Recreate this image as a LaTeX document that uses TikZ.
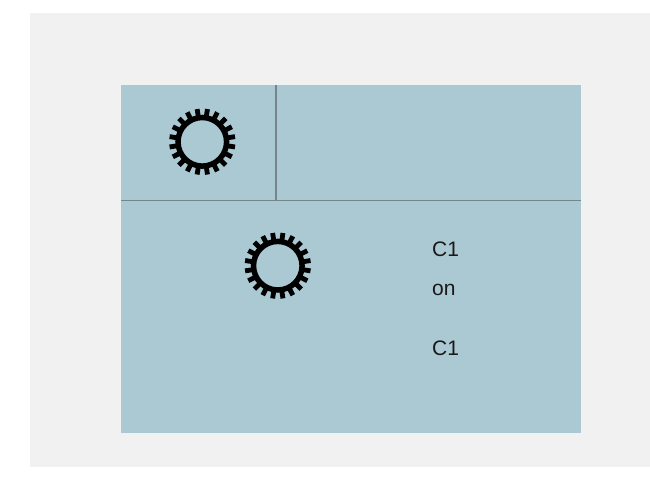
\documentclass[tikz,border=0pt]{standalone}
\usepackage{fontspec}
\setmainfont{Liberation Sans}
\definecolor{pagegray}{HTML}{F1F1F1}
\definecolor{panelblue}{HTML}{ABC9D3}
\definecolor{rulegray}{HTML}{75858B}
\tikzset{
  gearlabel/.style={anchor=base west, inner sep=0pt, font=\fontsize{21}{24}\selectfont, text=black!90},
  divider/.style={rulegray, line width=1.2pt},
}
% one gear: a ring and its teeth
\newcommand{\gearat}[1]{%
  \begin{scope}[shift={(#1)}]
    \draw [line width=5.5pt] (0,0) circle (24.3);
    \foreach \a in {9,27,...,351}
      \fill (\a-5.5:25) -- (\a-4.2:33.2) -- (\a+4.2:33.2) -- (\a+5.5:25) -- cycle;
  \end{scope}
}
\begin{document}
\begin{tikzpicture}[x=1pt, y=-1pt]
    \useasboundingbox (0,0) rectangle (650,495);
    \fill [pagegray] (30,13) rectangle (650,467);
    \fill [panelblue] (121,85) rectangle (581,433);

    \coordinate (topleft) at (276,85);
    \coordinate (topmid) at (276,200.5);
    \coordinate (midleft) at (121,200.5);
    \coordinate (midright) at (581,200.5);
    \draw [divider] (topleft) -- (topmid);
    \draw [divider] (midleft) -- (midright);

    \gearat{202.3,141.8}
    \gearat{277.8,265.7}

    \node (labelone) at (432,256) [gearlabel] {C1};
    \node (labelon) at (432,295) [gearlabel] {on};
    \node (labeltwo) at (432,355) [gearlabel] {C1};
\end{tikzpicture}
\end{document}
